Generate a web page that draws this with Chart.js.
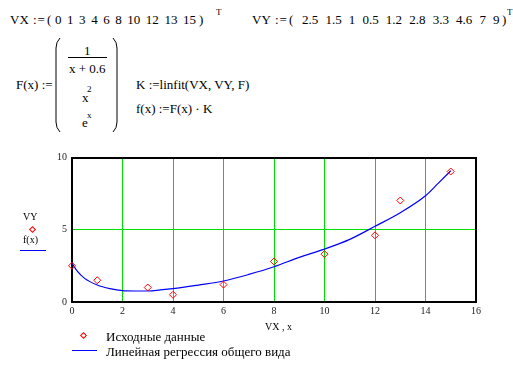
<!DOCTYPE html>
<html>
<head>
<meta charset="utf-8">
<script src="https://cdn.jsdelivr.net/npm/chart.js@4"></script>
<style>
body{margin:0;width:513px;height:367px;background:#fff;position:relative;overflow:hidden;color:#000;font-family:'Liberation Serif','Times New Roman',Tinos,serif}
.t{position:absolute;white-space:pre;line-height:1;font-family:'Liberation Serif','Times New Roman',Tinos,serif}
.dia{position:absolute;width:5px;height:5px;box-sizing:border-box;border:1px solid #ff0000;transform:rotate(45deg)}
.ln{position:absolute;height:0;border-top:1.5px solid #0000ff}
#c{position:absolute;left:0;top:145px}
#par{position:absolute;left:0;top:0}
</style>
</head>
<body>
<svg id="par" width="200" height="140">
  <path d="M60,38 Q56,42 56,48 L56,122 Q56,128 60,132" fill="none" stroke="#000" stroke-width="1"/>
  <path d="M113,38 Q117,42 117,48 L117,122 Q117,128 113,132" fill="none" stroke="#000" stroke-width="1"/>
  <line x1="68" y1="57.5" x2="107" y2="57.5" stroke="#000" stroke-width="1"/>
</svg>
<canvas id="c" width="500" height="180"></canvas>
<script>
// исходные данные
const VX = [0, 1, 3, 4, 6, 8, 10, 12, 13, 15];
const VY = [2.5, 1.5, 1, 0.5, 1.2, 2.8, 3.3, 4.6, 7, 9];

// кривая регрессии
const fitX = [0, 0.2, 0.5, 1, 1.5, 2, 2.5, 3, 3.5, 4, 5, 6, 7, 8, 9, 10, 11, 12, 13, 14, 14.5, 15];
const fitY = [2.67, 2.15, 1.63, 1.17, 0.92, 0.78, 0.76, 0.76, 0.83, 0.92, 1.17, 1.45, 1.9, 2.43, 3.08, 3.65, 4.32, 5.22, 6.16, 7.33, 8.18, 9.05];

const xTickValues = [0, 2, 4, 6, 8, 10, 12, 14, 16];
const yTickValues = [0, 5, 10];

const SERIF = "'Liberation Serif', 'Times New Roman', Tinos, serif";

function put(txt, x, cy, size, extra) {
  const d = document.createElement('div');
  d.className = 't';
  d.textContent = txt;
  d.style.left = x + 'px';
  d.style.top = (cy - size * 0.5) + 'px';
  d.style.fontSize = size + 'px';
  if (extra) Object.assign(d.style, extra);
  document.body.appendChild(d);
}

// формулы сверху
put('VX', 10, 19, 13);
put(':=', 33, 19, 13, {letterSpacing: '1px'});
put('(', 47, 19, 13);
put(VX.join(' '), 55, 19, 13, {wordSpacing: '2.3px'});
put(')', 199, 19, 13);
put('T', 216, 12, 9);
put('VY', 252, 19, 13);
put(':=', 275, 19, 13, {letterSpacing: '1px'});
put('(', 289, 19, 13);
put(VY.join(' '), 302, 19, 13, {wordSpacing: '3.9px'});
put(')', 502, 19, 13);
put('T', 507, 12, 9);

put('F(x) :=', 16, 84, 13);
put('1', 84, 50, 13);
put('x + 0.6', 69, 68, 13);
put('x', 82, 97, 13);
put('2', 87, 89, 9);
put('e', 82, 122, 13);
put('x', 87, 115, 9);
put('K :=linfit(VX, VY, F)', 136, 84, 13);
put('f(x) :=F(x) \u00b7 K', 136, 108, 13);

// подписи осей и легенда
put('VY', 23, 217, 10);
put('f(x)', 23, 240, 10);
put('VX , x', 265, 327, 10);
put('Исходные данные', 106, 336, 13);
put('Линейная регрессия общего вида', 106, 351, 13);

function diamond(cx, cy) {
  const d = document.createElement('div');
  d.className = 'dia';
  d.style.left = (cx - 2.5) + 'px';
  d.style.top = (cy - 2.5) + 'px';
  document.body.appendChild(d);
}
function hline(x1, x2, y) {
  const d = document.createElement('div');
  d.className = 'ln';
  d.style.left = x1 + 'px';
  d.style.width = (x2 - x1) + 'px';
  d.style.top = y + 'px';
  document.body.appendChild(d);
}
diamond(32, 229);
hline(20, 46, 250);
diamond(83, 335);
hline(72, 97, 349.5);

const boxPlugin = {
  id: 'box',
  beforeDatasetsDraw(chart) {
    const a = chart.chartArea, ctx = chart.ctx;
    ctx.save();
    ctx.strokeStyle = '#000';
    ctx.lineWidth = 2;
    ctx.strokeRect(Math.round(a.left), Math.round(a.top) + 1, Math.round(a.right - a.left), Math.round(a.bottom - a.top) - 1);
    ctx.restore();
  }
};

Chart.defaults.font.family = SERIF;
const tickFont = {family: SERIF, size: 10};

const chart = new Chart(document.getElementById('c'), {
  type: 'scatter',
  data: {
    datasets: [
      {
        data: fitX.map((x, i) => ({x: x, y: fitY[i]})),
        showLine: true,
        borderColor: '#0000ff',
        borderWidth: 1.2,
        pointRadius: 0,
        cubicInterpolationMode: 'monotone',
        fill: false,
        clip: false,
        order: 2
      },
      {
        data: VX.map((x, i) => ({x: x, y: VY[i]})),
        showLine: false,
        pointStyle: 'rectRot',
        pointRadius: 3.5,
        pointBorderWidth: 1,
        borderColor: '#ff0000',
        backgroundColor: 'rgba(0,0,0,0)',
        clip: false,
        order: 1
      }
    ]
  },
  options: {
    responsive: false,
    animation: false,
    devicePixelRatio: 1,
    layout: {padding: {left: 0, right: 24, top: 12, bottom: 3}},
    plugins: {legend: {display: false}, tooltip: {enabled: false}},
    scales: {
      x: {
        type: 'linear', min: 0, max: 16,
        afterBuildTicks: s => { s.ticks = xTickValues.map(v => ({value: v})); },
        afterFit: s => { s.height = 20; },
        grid: {color: '#00dd00', drawTicks: false, lineWidth: 1},
        border: {display: false},
        ticks: {padding: 3, font: tickFont, color: '#222', maxRotation: 0}
      },
      y: {
        type: 'linear', min: 0, max: 10,
        afterBuildTicks: s => { s.ticks = yTickValues.map(v => ({value: v})); },
        afterFit: s => { s.width = 72; },
        grid: {color: '#00dd00', drawTicks: false, lineWidth: 1},
        border: {display: false},
        ticks: {padding: 5, font: tickFont, color: '#222'}
      }
    }
  },
  plugins: [boxPlugin]
});

// перерисовать, когда шрифт подгрузится
document.fonts.load("10px 'Liberation Serif'").then(() => chart.update('none'));
document.fonts.ready.then(() => chart.update('none'));
</script>
</body>
</html>
